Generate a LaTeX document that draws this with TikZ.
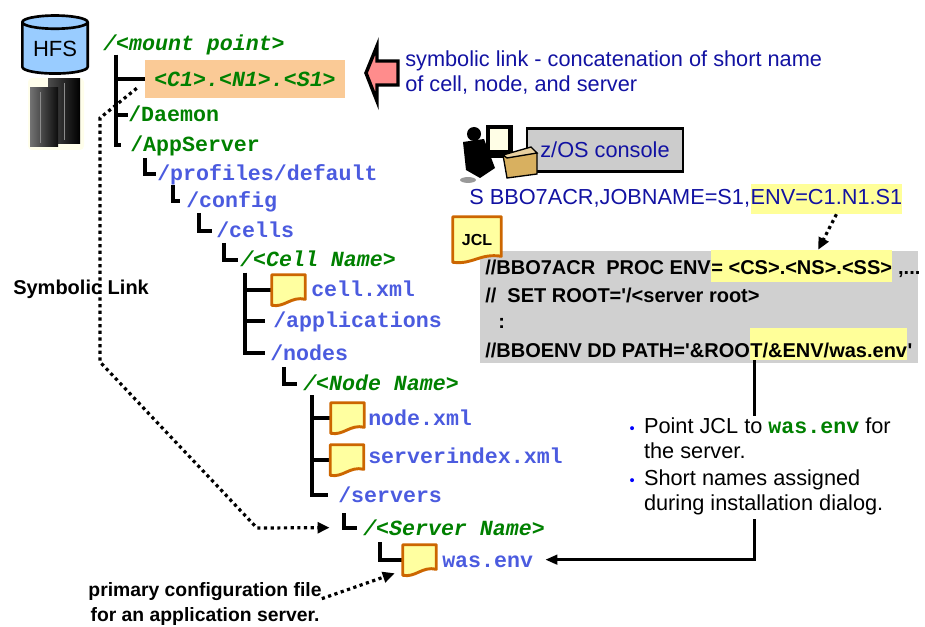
\documentclass[tikz,border=0pt]{standalone}
\usepackage{fontspec}
\setmainfont{Liberation Sans}
\setmonofont{Liberation Mono}
\usetikzlibrary{shapes.geometric,arrows.meta}
\definecolor{TreeGreen}{HTML}{008000}
\definecolor{TreeBlue}{HTML}{4B5BDF}
\definecolor{NoteBlue}{HTML}{1212A2}
\definecolor{Peach}{HTML}{FACA96}
\definecolor{Hilite}{HTML}{FFFF99}
\definecolor{JclGray}{HTML}{D0D0D0}
\definecolor{DocLine}{HTML}{CC6600}
\definecolor{DocFill}{HTML}{FFFFA0}
\definecolor{Pink}{HTML}{FF8C8C}
\definecolor{HfsBlue}{HTML}{99CCFF}
\definecolor{Tan}{HTML}{D8B060}
\newcommand\dirfont{\ttfamily\bfseries\fontsize{16.2}{18}\selectfont}
\newcommand\notefont{\fontsize{16.3}{18.75}\selectfont}
\newcommand\jclfont{\bfseries\fontsize{15}{18}\selectfont}
\tikzset{
  dir text/.style={font=\dirfont,inner sep=0pt,anchor=base west,
    text height=11pt,text depth=0pt},
  fixed dir/.style={dir text,text=TreeGreen},
  var dir/.style={dir text,text=TreeGreen,font=\dirfont\itshape},
  sub dir/.style={dir text,text=TreeBlue},
  link box/.style={fill=Peach,minimum width=150pt,minimum height=28.5pt,
    inner sep=0pt,text=TreeGreen,font=\dirfont\itshape},
  doc icon/.style={minimum width=24.75pt,minimum height=22.5pt,inner sep=0pt},
  doc page/.style={draw=DocLine,fill=DocFill,line width=2.2pt,line join=round},
  tree line/.style={line width=3pt},
  link arrow/.style={line width=2.4pt,dash pattern=on 2.4pt off 2.6pt,
    -{Triangle[length=9pt,width=8pt]}},
  jcl arrow/.style={line width=2.4pt,-{Triangle[length=9pt,width=7pt]}},
  hfs/.style={cylinder,shape border rotate=90,aspect=0.3,draw=black,
    line width=2pt,fill=HfsBlue,minimum width=49pt,minimum height=43.5pt,
    inner sep=0pt,font=\fontsize{16.5}{18}\selectfont},
  console/.style={draw=black,line width=2.2pt,fill=black!20,
    minimum width=117pt,minimum height=32pt,text=NoteBlue,font=\notefont},
  cmd text/.style={inner sep=0pt,anchor=base west,text=NoteBlue,font=\notefont},
  jcl box/.style={fill=JclGray,minimum width=328.5pt,minimum height=84pt,inner sep=0pt},
  jcl/.style={inner sep=0pt,anchor=base west,font=\jclfont},
  hint/.style={fill=white,inner xsep=4pt,inner ysep=0pt,anchor=base west,font=\notefont},
  caption/.style={align=center,inner sep=0pt,font=\bfseries\fontsize{14.5}{18.75}\selectfont}
}

\begin{document}
\begin{tikzpicture}[x=0.75pt,y=-0.75pt]
  \useasboundingbox (0,0) rectangle (925,627);

  % storage and machine
  \node[hfs] (hfs) at (55,48.5) {HFS};
  \fill[yellow!8,rounded corners=3pt] (28,78) rectangle (84,150);
  \shade[left color=black!70,right color=black] (48,79) rectangle (80,144);
  \shade[left color=black!55,right color=black!95] (30,88) rectangle (58,147);
  \draw[black!45,line width=0.6pt] (40,92) -- (40,143) (64,83) -- (64,140);

  % directory tree
  \node[var dir] (mount) at (103,51) {/<mount point>};
  \node[link box] (c1) at (245,79) {<C1>.<N1>.<S1>};
  \node[fixed dir] (daemon) at (128,122) {/Daemon};
  \node[fixed dir] (appserver) at (130,152) {/AppServer};
  \node[sub dir] (profiles) at (157,181) {/profiles/default};
  \node[sub dir] (config) at (186,208) {/config};
  \node[sub dir] (cells) at (216,238) {/cells};
  \node[var dir] (cellname) at (240,267) {/<Cell Name>};
  \node[doc icon] (cellicon) at (288.5,290) {};
  \node[sub dir] (cellxml) at (311,297) {cell.xml};
  \node[sub dir] (apps) at (273,328) {/applications};
  \node[sub dir] (nodes) at (270,360) {/nodes};
  \node[var dir] (nodename) at (303,391) {/<Node Name>};
  \node[doc icon] (nodeicon) at (347.5,418) {};
  \node[sub dir] (nodexml) at (368,425) {node.xml};
  \node[doc icon] (idxicon) at (347,460) {};
  \node[sub dir] (idxxml) at (368,463) {serverindex.xml};
  \node[sub dir] (servers) at (338,502) {/servers};
  \node[var dir] (sname) at (363,535) {/<Server Name>};
  \node[doc icon] (envicon) at (419.5,560) {};
  \node[sub dir] (wasenv) at (442,567) {was.env};

  \coordinate (trunkA) at (116,55);
  \coordinate (trunkB) at (145,158);
  \coordinate (trunkC) at (173,185);
  \coordinate (trunkD) at (199,213);
  \coordinate (trunkE) at (224,243);
  \coordinate (trunkF) at (245,273);
  \coordinate (trunkG) at (284,367);
  \coordinate (trunkH) at (312,395);
  \coordinate (trunkI) at (344,513);
  \coordinate (trunkJ) at (380,542);
  \draw[tree line] (trunkA) |- (c1.west);
  \draw[tree line] (trunkA) |- (daemon.west);
  \draw[tree line] (trunkA) |- ([xshift=-6.75pt]appserver.west);
  \draw[tree line] (trunkB) |- ([xshift=-1pt]profiles.west);
  \draw[tree line] (trunkC) |- ([xshift=-4.5pt]config.west);
  \draw[tree line] (trunkD) |- ([xshift=-3pt]cells.west);
  \draw[tree line] (trunkE) |- ([xshift=-1.5pt]cellname.west);
  \draw[tree line] (trunkF) |- (cellicon.west);
  \draw[tree line] (trunkF) |- ([xshift=-6pt]apps.west);
  \draw[tree line] (trunkF) |- ([xshift=-4pt]nodes.west);
  \draw[tree line] (trunkG) |- ([xshift=-4.5pt]nodename.west);
  \draw[tree line] (trunkH) |- (nodeicon.west);
  \draw[tree line] (trunkH) |- (idxicon.west);
  \draw[tree line] (trunkH) |- ([xshift=-7.5pt]servers.west);
  \draw[tree line] (trunkI) |- ([xshift=-4.5pt]sname.west);
  \draw[tree line] (trunkJ) |- (envicon.west);

  % symbolic link
  \node[anchor=base west,inner sep=0pt,font=\bfseries\fontsize{15}{18}\selectfont]
    (symlabel) at (13,295) {Symbolic Link};
  \coordinate (bendtop) at (100,118);
  \coordinate (bendlow) at (100,362);
  \coordinate (bendfoot) at (257,528);
  \draw[link arrow] ([xshift=-6pt,yshift=7.5pt]c1.south west) -- (bendtop)
    -- (bendlow) -- (bendfoot) -- ([xshift=-25pt]sname.west);

  \filldraw[fill=Pink,draw=black,line width=2.6pt,line join=miter]
    (366,73) -- (377,46) -- (377,61) -- (398,61) -- (398,85) -- (377,85) -- (377,101) -- cycle;
  \node[anchor=west,align=left,inner sep=0pt,text=NoteBlue,font=\notefont]
    (symnote) at (405,73) {symbolic link - concatenation of short name\\of cell, node, and server};

  % operator console
  \node[console] (console) at (605,150) {z/OS console};
  \fill[black] (486,125) rectangle (513,158);
  \fill[yellow!10] (490,129) rectangle (508,150);
  \fill[black] (474,134) circle (5.25pt);
  \fill[black] (463,142) -- (484,139) -- (495,168) -- (480,178) -- (466,170) -- cycle;
  \fill[black!40] (468,180) ellipse (6pt and 2.2pt);
  \filldraw[fill=Tan,draw=black,line width=1pt] (503,155) -- (533,150) -- (537,153)
    -- (537,174) -- (507,178) -- cycle;
  \filldraw[fill=Tan!60,draw=black,line width=1pt] (503,155) -- (531,147) -- (537,153)
    -- (507,158) -- cycle;

  \node[cmd text] (cmd) at (469,205) {S BBO7ACR,JOBNAME=S1,};
  \node[cmd text,fill=Hilite,text height=15.75pt,text depth=6.75pt]
    (envpart) at (cmd.base east) {ENV=C1.N1.S1};

  % procedure
  \node[jcl box] (jclbox) at (699,307) {};
  \node[jcl] (procl) at (485,275) {//BBO7ACR~~PROC ENV};
  \node[jcl,fill=Hilite,text height=18.75pt,text depth=5.25pt]
    (procenv) at (procl.base east) {= <CS>.<NS>.<SS>};
  \node[jcl] (procend) at (procenv.base east) {\ ,...};
  \node[jcl] (setroot) at (485,303) {//~~SET ROOT=\textquotesingle/<server root>};
  \node[jcl] (cont) at (498,329) {:};
  \node[jcl] (ddl) at (485,358) {//BBOENV DD PATH=\textquotesingle\&ROO};
  \node[jcl,fill=Hilite,text height=22.5pt,text depth=1.5pt]
    (pathenv) at (ddl.base east) {T/\&ENV/was.env};
  \node[jcl] (ddend) at (pathenv.base east) {\textquotesingle};
  \node[doc icon,minimum width=36pt,minimum height=33.75pt] (jclicon) at (477,239.5) {};

  \foreach \f in {cellicon,nodeicon,idxicon,envicon,jclicon}
    \filldraw[doc page] (\f.north west) -- (\f.north east) -- ([yshift=4.5pt]\f.south east)
      .. controls ([xshift=2pt,yshift=7pt]\f.south) and ([xshift=-3pt,yshift=-2pt]\f.south)
      .. (\f.south west) -- cycle;
  \node[font=\bfseries\fontsize{12}{14}\selectfont] (jcllabel) at (jclicon.center) {JCL};

  \draw[link arrow] ([xshift=7.5pt]envpart.south) -- ([xshift=12.4pt]procenv.north);
  \draw[jcl arrow] ([xshift=3pt]pathenv.south west) |- ([xshift=9pt]wasenv.east);

  \node[hint] (hint) at (624,433) {%
    \begin{tabular}[t]{@{}l@{\hspace{7pt}}l@{}}
      \textcolor{blue}{\fontsize{11}{11}\selectfont\textbullet} &
        Point JCL to {\color{TreeGreen}\dirfont was.env} for\\
      & the server.\\[2.25pt]
      \textcolor{blue}{\fontsize{11}{11}\selectfont\textbullet} & Short names assigned\\
      & during installation dialog.
    \end{tabular}};

  \node[caption] (primary) at (205,604) {primary configuration file\\for an application server.};
  \draw[link arrow] ([yshift=4pt]primary.east) -- ([xshift=-6pt,yshift=1.5pt]envicon.south west);
\end{tikzpicture}
\end{document}
